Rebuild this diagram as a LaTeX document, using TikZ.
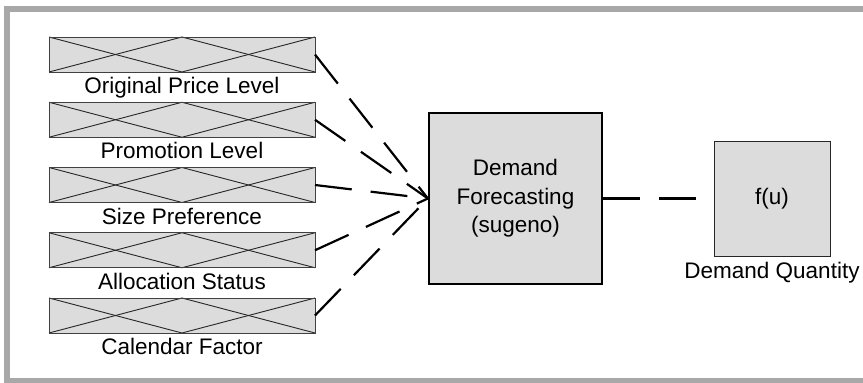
\documentclass[tikz,border=0pt]{standalone}
\usepackage{fontspec}
\setmainfont{Liberation Sans}
\begin{document}
\begin{tikzpicture}[x=1pt,y=-1pt,
  inbox/.style={draw=black!75,line width=1pt,fill=boxgray,minimum width=266pt,minimum height=35pt,inner sep=0pt,outer sep=0pt},
  inlabel/.style={font=\fontsize{22.5}{27}\selectfont,anchor=base,inner sep=0pt},
  link/.style={line width=2.2pt,dash pattern=on 37pt off 19pt},
  cross/.style={line width=0.9pt,black!85}]
\definecolor{boxgray}{HTML}{DCDCDC}
\definecolor{framegray}{HTML}{A8A8A8}
\useasboundingbox (0,0) rectangle (863,383);
\begin{scope}
\clip (0,0) rectangle (863,383);
\draw[framegray,line width=6pt] (7,8.5) rectangle (880,381);
\end{scope}
\foreach \i/\y/\t in {1/54.5/Original Price Level,2/119.75/Promotion Level,3/185/Size Preference,4/250.25/Allocation Status,5/315.5/Calendar Factor}{
  \node[inbox] (b\i) at (182,\y) {};
  \draw[cross] (b\i.north west) -- (b\i.south) -- (b\i.north east);
  \draw[cross] (b\i.south west) -- (b\i.north) -- (b\i.south east);
  \draw[draw=black!75,line width=1pt] (b\i.north west) rectangle (b\i.south east);
  \node[inlabel] (l\i) at ([yshift=-21.5pt]b\i.south) {\t};
}
\node[draw=black,line width=2.2pt,fill=boxgray,minimum width=173pt,minimum height=171pt,inner sep=0pt,align=center,font=\fontsize{22.5}{28.5}\selectfont] (df) at (515.5,198.5) {Demand\\Forecasting\\(sugeno)};
\node[draw=black!85,line width=1pt,fill=boxgray,minimum width=116pt,minimum height=115pt,inner sep=0pt,font=\fontsize{22.5}{27}\selectfont] (fu) at (772,198.5) {f(u)};
\node[inlabel] (fl) at ([yshift=-22pt]fu.south) {Demand Quantity};
\coordinate (in) at (df.west);
\foreach \i in {1,...,5}{
  \draw[link] (b\i.east) -- (in);
}
\draw[link] (df.east) -- (fu.west);
\end{tikzpicture}
\end{document}
